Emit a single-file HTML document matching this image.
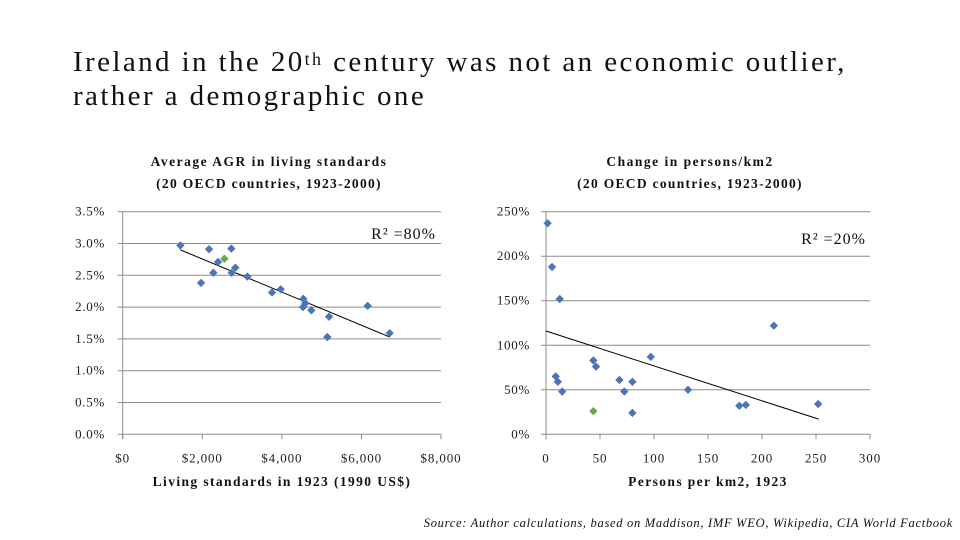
<!DOCTYPE html>
<html><head><meta charset="utf-8">
<style>
html,body{margin:0;padding:0;background:#fff;}
body{width:960px;height:540px;overflow:hidden;position:relative;font-family:"Liberation Serif",serif;}
#title{position:absolute;left:73px;top:45px;font-size:29px;line-height:34px;letter-spacing:2.4px;color:#111;margin:0;font-weight:normal;}
#title sup{font-size:18px;vertical-align:top;position:relative;top:-3px;}
svg{position:absolute;left:0;top:0;}
</style></head>
<body>
<h1 id="title">Ireland in the 20<sup>th</sup> century was not an economic outlier,<br>rather a demographic one</h1>
<svg id="svg" width="960" height="540" font-family="Liberation Serif, serif"></svg>
<script>
// Left chart data
const leftX=[1449,2170,2731,2396,2831,2739,2279,1969,3133,3753,3971,4540,4591,4532,4741,5185,5143,6157,6710];
const leftY=[2.97,2.91,2.92,2.71,2.62,2.54,2.54,2.38,2.48,2.23,2.28,2.13,2.06,2.00,1.95,1.85,1.53,2.02,1.59];
const leftIreland=[2555,2.76];
const leftTrend=[[1449,2.90],[6710,1.53]];
const leftYTicks=[0,0.5,1,1.5,2,2.5,3,3.5];
const leftXTicks=[0,2000,4000,6000,8000];
// Right chart data
const rightX=[1.5,5.6,12.7,211,43.8,46.3,97,9,11,15,68,80,72.5,131.5,80,179,185,252];
const rightY=[237,188,152,122,83,76,87,65,59,48,61,59,48,50,24,32,33,34];
const rightIreland=[43.8,26];
const rightTrend=[[0,116],[252.5,17]];
const rightYTicks=[0,50,100,150,200,250];
const rightXTicks=[0,50,100,150,200,250,300];

const NS="http://www.w3.org/2000/svg";
const svg=document.getElementById('svg');
function mk(tag,attrs,parent){const e=document.createElementNS(NS,tag);for(const k in attrs)e.setAttribute(k,attrs[k]);(parent||svg).appendChild(e);return e;}
function txt(s,attrs,parent){const e=mk('text',attrs,parent);e.textContent=s;return e;}

function chart(o){
  const g=mk('g',{});
  
  
  const sx=v=>o.x0+(v-o.xmin)/(o.xmax-o.xmin)*(o.x1-o.x0);
  const sy=v=>o.y0-(v-o.ymin)/(o.ymax-o.ymin)*(o.y0-o.y1);
  o.yTicks.forEach(t=>{
    const l=mk('line',{x1:o.x0-5,x2:o.x1,y1:sy(t),y2:sy(t),stroke:'#8c8c8c','stroke-width':1},g);
    
    
    const tl=txt(o.yFmt(t),{x:o.yLabX,y:sy(t)+4,'font-size':13,'letter-spacing':0.7,'text-anchor':'end',fill:'#222'},g);
    
    
  });
  mk('line',{x1:o.x0,x2:o.x0,y1:o.y1,y2:o.y0+5,stroke:'#8c8c8c'},g);
  o.xTicks.forEach(t=>{
    mk('line',{x1:sx(t),x2:sx(t),y1:o.y0,y2:o.y0+5,stroke:'#8c8c8c'},g);
    const tl=txt(o.xFmt(t),{x:sx(t),y:o.y0+28,'font-size':13,'letter-spacing':0.9,'text-anchor':'middle',fill:'#222'},g);
    
    
  });
  const tr=mk('line',{x1:sx(o.trend[0][0]),y1:sy(o.trend[0][1]),x2:sx(o.trend[1][0]),y2:sy(o.trend[1][1]),stroke:'#000','stroke-width':1},g);
  
  
  const dia=(x,y,c)=>{const px=sx(x),py=sy(y),r=4.2;
    const p=mk('polygon',{points:`${px},${py-r} ${px+r},${py} ${px},${py+r} ${px-r},${py}`,fill:c},g);return p;};
  o.xs.forEach((x,i)=>{const p=dia(x,o.ys[i],'#4a76b8');
    
    });
  const ir=dia(o.ire[0],o.ire[1],'#6aa64a');
  
  
  const r2=txt(o.r2,{x:o.r2x,y:o.r2y,'font-size':16,'letter-spacing':1,'text-anchor':'end',fill:'#111'},g);
  
  
  const t1=txt(o.t1,{x:o.tx,y:166,'font-size':13.5,'font-weight':'bold','text-anchor':'middle','letter-spacing':1.5,fill:'#111'},g);
  
  
  const t2=txt(o.t2,{x:o.tx,y:188,'font-size':13.5,'font-weight':'bold','text-anchor':'middle','letter-spacing':1.3,fill:'#111'},g);
  
  
  const xt=txt(o.xTitle,{x:o.xtx,y:486,'font-size':13.5,'font-weight':'bold','text-anchor':'middle','letter-spacing':1.4,fill:'#111'},g);
  
  
}
chart({name:'living-standards-chart',x0:122.7,x1:441,y0:434.3,y1:211.7,xmin:0,xmax:8000,ymin:0,ymax:3.5,
  xs:leftX,ys:leftY,ire:leftIreland,trend:leftTrend,yTicks:leftYTicks,xTicks:leftXTicks,
  yFmt:t=>t.toFixed(1)+'%',xFmt:t=>'$'+t.toLocaleString('en-US'),yLabX:105,
  r2:'R² =80%',r2x:436,r2y:239,t1:'Average AGR in living standards',t2:'(20 OECD countries, 1923-2000)',tx:269,
  xTitle:'Living standards in 1923 (1990 US$)',xtx:282});
chart({name:'population-density-chart',x0:546,x1:870,y0:434.3,y1:211.7,xmin:0,xmax:300,ymin:0,ymax:250,
  xs:rightX,ys:rightY,ire:rightIreland,trend:rightTrend,yTicks:rightYTicks,xTicks:rightXTicks,
  yFmt:t=>t+'%',xFmt:t=>String(t),yLabX:530,
  r2:'R² =20%',r2x:866,r2y:244,t1:'Change in persons/km2',t2:'(20 OECD countries, 1923-2000)',tx:690,
  xTitle:'Persons per km2, 1923',xtx:708});
const src=txt('Source: Author calculations, based on Maddison, IMF WEO, Wikipedia, CIA World Factbook',{x:953,y:527,'font-size':12.5,'font-style':'italic','letter-spacing':0.7,'text-anchor':'end',fill:'#111'});


</script>
</body></html>
